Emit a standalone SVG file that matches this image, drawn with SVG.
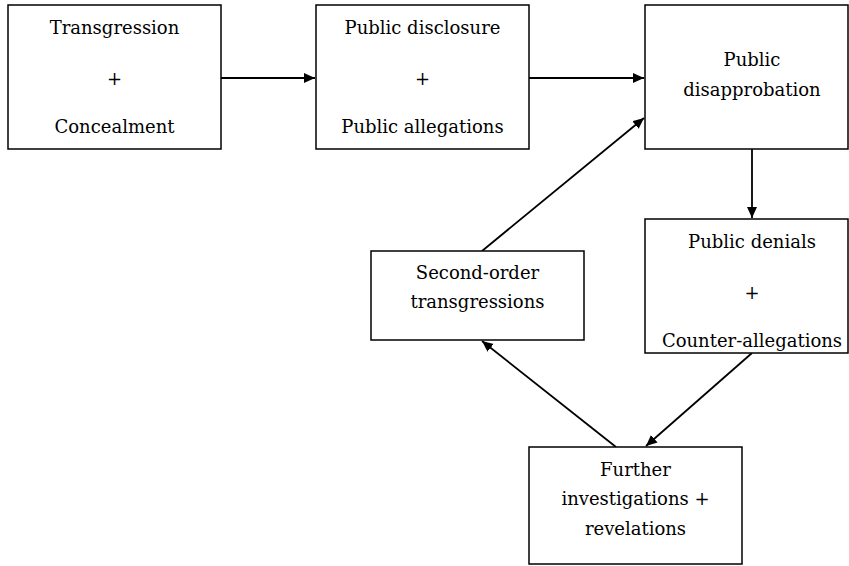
<svg xmlns="http://www.w3.org/2000/svg" width="849" height="566" viewBox="0 0 849 566">
<style>
.box{fill:#fff;stroke:#000;stroke-width:1.5}
.t{font-family:"DejaVu Serif","Liberation Serif",serif;font-size:18px;fill:#000;text-anchor:middle}
.c{stroke:#000;stroke-width:1.8;fill:none;marker-end:url(#ah)}
</style>
<defs>
<marker id="ah" markerUnits="userSpaceOnUse" markerWidth="12" markerHeight="11" refX="11" refY="5" orient="auto">
<path d="M0,0 L11,5 L0,10 z" fill="#000"/>
</marker>
</defs>
<rect width="849" height="566" fill="#fff"/>
<g id="connectors">
<line class="c" x1="221" y1="78" x2="315" y2="78"/>
<line class="c" x1="529" y1="78" x2="644" y2="78"/>
<line class="c" x1="752" y1="149" x2="752" y2="218"/>
<line class="c" x1="752" y1="353" x2="646" y2="446"/>
<line class="c" x1="616" y1="447" x2="482" y2="341"/>
<line class="c" x1="482" y1="251" x2="644" y2="118"/>
</g>
<g id="n1">
<rect class="box" x="8" y="5" width="213" height="144"/>
<text class="t" x="114.5" y="34">Transgression</text>
<text class="t" x="114.5" y="85">+</text>
<text class="t" x="114.5" y="133">Concealment</text>
</g>
<g id="n2">
<rect class="box" x="316" y="5" width="213" height="144"/>
<text class="t" x="422.5" y="34">Public disclosure</text>
<text class="t" x="422.5" y="85">+</text>
<text class="t" x="422.5" y="133">Public allegations</text>
</g>
<g id="n3">
<rect class="box" x="645" y="5" width="203" height="144"/>
<text class="t" x="752" y="66">Public</text>
<text class="t" x="752" y="96">disapprobation</text>
</g>
<g id="n4">
<rect class="box" x="645" y="219" width="203" height="134"/>
<text class="t" x="752" y="248">Public denials</text>
<text class="t" x="752" y="299">+</text>
<text class="t" x="752" y="347">Counter-allegations</text>
</g>
<g id="n5">
<rect class="box" x="371" y="251" width="213" height="89"/>
<text class="t" x="477.5" y="279">Second-order</text>
<text class="t" x="477.5" y="308">transgressions</text>
</g>
<g id="n6">
<rect class="box" x="529" y="447" width="213" height="117"/>
<text class="t" x="635.5" y="476">Further</text>
<text class="t" x="635.5" y="505">investigations +</text>
<text class="t" x="635.5" y="535">revelations</text>
</g>
</svg>
